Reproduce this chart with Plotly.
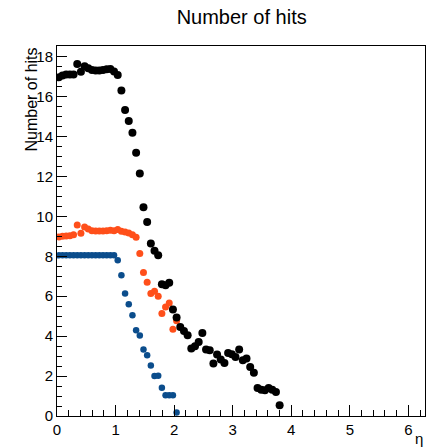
import numpy as np
import plotly.graph_objects as go

# Histogram binning: 100 bins over [0, 2*pi]
n_bins_total = 100
eta_max = 2 * np.pi
bin_width = eta_max / n_bins_total

# Number of hits per eta bin
hits_total = [16.96, 17.05, 17.1, 17.1, 17.1, 17.63, 17.24, 17.52, 17.42, 17.33,
              17.3, 17.3, 17.33, 17.36, 17.38, 17.25, 17.08, 16.3, 15.32, 14.77,
              14.19, 13.18, 12.15, 10.45, 9.71, 8.64, 8.27, 8.05, 6.6, 6.55,
              6.67, 5.33, 4.93, 4.46, 4.26, 4.05, 3.38, 3.49, 3.71, 4.16,
              3.33, 3.29, 2.63, 3.08, 2.83, 2.66, 3.16, 3.09, 2.96, 3.33,
              2.79, 2.88, 2.46, 2.16, 1.4, 1.32, 1.29, 1.4, 1.32, 1.2,
              0.54]
hits_orange = [8.97, 9.0, 9.02, 9.03, 9.08, 9.57, 9.15, 9.47, 9.36, 9.28,
               9.26, 9.27, 9.27, 9.28, 9.3, 9.28, 9.34, 9.25, 9.22, 9.17,
               9.08, 8.95, 8.14, 7.19, 6.7, 6.13, 6.25, 6.0, 5.13, 5.46,
               5.66, 4.35, 4.77]
hits_blue = [8.05, 8.05, 8.05, 8.05, 8.05, 8.05, 8.05, 8.05, 8.05, 8.05,
             8.05, 8.05, 8.05, 8.05, 8.05, 8.05, 7.8, 7.05, 6.13, 5.6,
             5.05, 4.3, 4.03, 3.33, 3.04, 2.53, 2.0, 2.02, 1.42, 1.04,
             1.04, 1.04, 0.17]

def centers(n):
    return (np.arange(n) + 0.5) * bin_width

FONT = "Liberation Sans, Arial, Helvetica, sans-serif"

fig = go.Figure()
fig.add_trace(go.Scatter(x=centers(len(hits_blue)), y=hits_blue, mode="markers",
                         marker=dict(color="#0b4d8c", size=6.5, line=dict(width=0)),
                         showlegend=False))
fig.add_trace(go.Scatter(x=centers(len(hits_orange)), y=hits_orange, mode="markers",
                         marker=dict(color="#ff4f1a", size=7, line=dict(width=0)),
                         showlegend=False))
fig.add_trace(go.Scatter(x=centers(len(hits_total)), y=hits_total, mode="markers",
                         marker=dict(color="#000000", size=8, line=dict(width=0)),
                         showlegend=False))

axis_common = dict(
    showgrid=False, zeroline=False,
    showline=True, linecolor="black", linewidth=1, mirror=True,
    ticks="inside", tickcolor="black", tickwidth=1,
    tickfont=dict(family=FONT, size=15, color="black"),
)

fig.update_xaxes(range=[0, eta_max], tick0=0, dtick=1, ticklen=11,
                 minor=dict(ticks="inside", dtick=0.2, ticklen=6, tickcolor="black"),
                 **axis_common)
fig.update_yaxes(range=[0, 18.53], tick0=0, dtick=2, ticklen=10,
                 minor=dict(ticks="inside", dtick=0.5, ticklen=5, tickcolor="black"),
                 **axis_common)

fig.update_layout(
    width=427, height=448,
    margin=dict(l=57, r=2, t=46, b=32),
    paper_bgcolor="white", plot_bgcolor="white",
    font=dict(family=FONT, color="black"),
    title=dict(text="Number of hits", x=0.566, xanchor="center", y=0.962, yanchor="middle",
               font=dict(family=FONT, size=20, color="black")),
    annotations=[
        dict(text="Number of hits", textangle=-90, xref="paper", yref="paper",
             x=-0.072, y=1.0, xanchor="center", yanchor="top", showarrow=False,
             font=dict(family=FONT, size=16, color="black")),
        dict(text="η", xref="paper", yref="paper", x=0.985, y=-0.062,
             xanchor="center", yanchor="middle", showarrow=False,
             font=dict(family=FONT, size=15, color="black")),
    ],
)

fig.write_html("out.html")
